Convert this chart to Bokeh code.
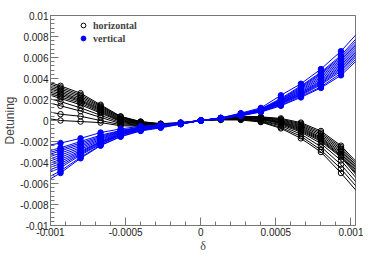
from bokeh.plotting import figure
from bokeh.models import Range1d, FixedTicker, CustomJSTickFormatter, Legend, LegendItem
from bokeh.embed import file_html
from bokeh.resources import INLINE

# delta sample points
delta = [-0.00106667, -0.00093333, -0.0008, -0.00066667, -0.00053333, -0.0004,
         -0.00026667, -0.00013333, 0.0, 0.00013333, 0.00026667, 0.0004,
         0.00053333, 0.00066667, 0.0008, 0.00093333, 0.00106667]

# detuning, in units of 1e-3
horizontal = [
    [3.9, 3.3, 2.6, 1.5, 0.4, -0.1, -0.3, -0.2, 0, 0.25, 0.4, 0.35, 0.2, -0.2, -1.0, -2.4, -4.4],
    [3.75, 3.15, 2.45, 1.4, 0.35, -0.12, -0.32, -0.22, 0, 0.22, 0.38, 0.32, 0.12, -0.3, -1.15, -2.55, -4.6],
    [3.6, 3.0, 2.3, 1.3, 0.3, -0.15, -0.35, -0.25, 0, 0.2, 0.35, 0.3, 0.05, -0.4, -1.3, -2.7, -4.8],
    [3.45, 2.85, 2.15, 1.2, 0.22, -0.18, -0.38, -0.25, 0, 0.2, 0.32, 0.25, -0.02, -0.5, -1.45, -2.85, -4.95],
    [3.3, 2.7, 2.0, 1.1, 0.15, -0.2, -0.4, -0.25, 0, 0.2, 0.3, 0.2, -0.1, -0.6, -1.6, -3.0, -5.1],
    [3.15, 2.55, 1.9, 1.0, 0.08, -0.25, -0.42, -0.28, 0, 0.18, 0.28, 0.18, -0.15, -0.7, -1.7, -3.15, -5.25],
    [3.0, 2.4, 1.8, 0.9, 0.0, -0.3, -0.45, -0.3, 0, 0.15, 0.25, 0.15, -0.2, -0.8, -1.8, -3.3, -5.4],
    [2.85, 2.25, 1.65, 0.8, -0.05, -0.32, -0.45, -0.3, 0, 0.15, 0.22, 0.12, -0.25, -0.9, -1.9, -3.4, -5.55],
    [2.7, 2.1, 1.5, 0.7, -0.1, -0.35, -0.45, -0.3, 0, 0.15, 0.2, 0.1, -0.3, -1.0, -2.0, -3.5, -5.7],
    [2.3, 1.8, 1.2, 0.5, -0.2, -0.4, -0.5, -0.3, 0, 0.1, 0.2, 0.0, -0.4, -1.1, -2.2, -3.8, -6.0],
    [1.9, 1.4, 0.9, 0.3, -0.3, -0.45, -0.5, -0.3, 0, 0.1, 0.15, -0.05, -0.5, -1.3, -2.5, -4.2, -6.4],
    [1.0, 0.6, 0.4, 0.0, -0.4, -0.5, -0.5, -0.3, 0, 0.1, 0.1, -0.1, -0.65, -1.5, -2.8, -4.6, -6.8],
    [0.3, 0.0, -0.1, -0.2, -0.5, -0.55, -0.5, -0.3, 0, 0.05, 0.05, -0.15, -0.75, -1.7, -3.0, -5.0, -7.2],
]

vertical = [
    [-2.5, -2.15, -1.7, -1.15, -0.8, -0.55, -0.4, -0.2, 0, 0.25, 0.7, 1.2, 2.4, 3.5, 4.9, 6.6, 8.7],
    [-3.1, -2.6, -2.0, -1.4, -0.95, -0.6, -0.45, -0.25, 0, 0.25, 0.65, 1.1, 2.1, 3.3, 4.6, 6.2, 8.3],
    [-3.3, -2.75, -2.15, -1.5, -1.0, -0.65, -0.48, -0.25, 0, 0.22, 0.62, 1.08, 2.02, 3.2, 4.5, 6.05, 8.05],
    [-3.5, -2.9, -2.3, -1.6, -1.05, -0.7, -0.5, -0.25, 0, 0.2, 0.6, 1.05, 1.95, 3.1, 4.4, 5.9, 7.8],
    [-3.75, -3.1, -2.45, -1.7, -1.1, -0.72, -0.5, -0.28, 0, 0.2, 0.58, 1.02, 1.9, 3.0, 4.25, 5.75, 7.65],
    [-4.0, -3.3, -2.6, -1.8, -1.15, -0.75, -0.5, -0.3, 0, 0.2, 0.55, 1.0, 1.85, 2.9, 4.1, 5.6, 7.5],
    [-4.2, -3.5, -2.75, -1.9, -1.2, -0.78, -0.52, -0.3, 0, 0.2, 0.55, 0.98, 1.8, 2.8, 3.95, 5.45, 7.3],
    [-4.4, -3.7, -2.9, -2.0, -1.25, -0.8, -0.55, -0.3, 0, 0.2, 0.55, 0.95, 1.75, 2.7, 3.8, 5.3, 7.1],
    [-4.6, -3.9, -3.0, -2.05, -1.3, -0.82, -0.58, -0.3, 0, 0.2, 0.52, 0.92, 1.7, 2.62, 3.7, 5.15, 6.95],
    [-4.8, -4.1, -3.1, -2.1, -1.35, -0.85, -0.6, -0.3, 0, 0.2, 0.5, 0.9, 1.65, 2.55, 3.6, 5.0, 6.8],
    [-5.05, -4.3, -3.2, -2.2, -1.38, -0.88, -0.6, -0.3, 0, 0.18, 0.5, 0.88, 1.6, 2.48, 3.5, 4.85, 6.65],
    [-5.3, -4.5, -3.3, -2.25, -1.4, -0.9, -0.6, -0.3, 0, 0.15, 0.5, 0.85, 1.55, 2.4, 3.4, 4.7, 6.5],
    [-5.8, -4.8, -3.5, -2.35, -1.5, -0.95, -0.65, -0.35, 0, 0.15, 0.45, 0.85, 1.45, 2.3, 3.2, 4.5, 6.3],
    [-6.1, -5.0, -3.6, -2.4, -1.55, -1.0, -0.7, -0.35, 0, 0.15, 0.45, 0.8, 1.4, 2.2, 3.1, 4.3, 6.1],
]

x_ticks = [-0.001, -0.0005, 0.0, 0.0005, 0.001]
x_minor = [-0.001 + i * 0.0001 for i in range(21)]
y_ticks = [-0.01, -0.008, -0.006, -0.004, -0.002, 0.0, 0.002, 0.004, 0.006, 0.008, 0.01]
y_minor = [-0.01 + i * 0.0004 for i in range(51)]

p = figure(frame_width=305, frame_height=210, output_backend="svg", toolbar_location=None,
           x_range=Range1d(-0.001, 0.00103), y_range=Range1d(-0.01, 0.01),
           min_border_left=45, min_border_right=8, min_border_top=15, min_border_bottom=20)
p.grid.visible = False
p.outline_line_color = "#777777"
p.background_fill_color = "white"
p.border_fill_color = "white"

fmt = CustomJSTickFormatter(code="return Number(tick.toPrecision(6)).toString();")
for ax, t, m in ((p.xaxis[0], x_ticks, x_minor), (p.yaxis[0], y_ticks, y_minor)):
    ax.ticker = FixedTicker(ticks=t, minor_ticks=m)
    ax.formatter = fmt
    ax.axis_line_color = "#777777"
    ax.major_tick_line_color = "#777777"
    ax.minor_tick_line_color = "#777777"
    ax.major_tick_in = 8
    ax.major_tick_out = 0
    ax.minor_tick_in = 4
    ax.minor_tick_out = 0
    ax.major_label_text_font = "Liberation Sans"
    ax.major_label_text_font_size = "10px"
    ax.major_label_text_color = "#222222"
    ax.major_label_standoff = 2
    ax.axis_label_text_font_style = "normal"
    ax.axis_label_standoff = 0

p.xaxis.axis_label = "δ"
p.xaxis.axis_label_text_font = "Liberation Serif"
p.xaxis.axis_label_text_font_size = "12px"
p.yaxis.axis_label = "Detuning"
p.yaxis.axis_label_text_font = "Liberation Sans"
p.yaxis.axis_label_text_font_size = "12px"

h_rend = None
for vals in horizontal:
    ys = [v * 1e-3 for v in vals]
    p.line(delta, ys, line_color="black", line_width=1)
    r = p.scatter(delta, ys, marker="circle", size=5.5, line_color="black",
                  fill_color=None, line_width=1)
    if h_rend is None:
        h_rend = r

v_rend = None
for vals in vertical:
    ys = [v * 1e-3 for v in vals]
    p.line(delta, ys, line_color="#0000ff", line_width=1)
    r = p.scatter(delta, ys, marker="circle", size=5.5, line_color="#0000ff",
                  fill_color="#0000ff")
    if v_rend is None:
        v_rend = r

legend = Legend(items=[LegendItem(label="horizontal", renderers=[h_rend]),
                       LegendItem(label="vertical", renderers=[v_rend])],
                location=(26, 181), orientation="vertical",
                label_text_font="Liberation Serif", label_text_font_style="bold",
                label_text_font_size="10px", label_height=12, glyph_height=12,
                glyph_width=14, spacing=1, padding=0, margin=0, label_standoff=3,
                border_line_color=None, background_fill_alpha=0)
p.add_layout(legend)

open("out.html", "w").write(file_html(p, INLINE))
